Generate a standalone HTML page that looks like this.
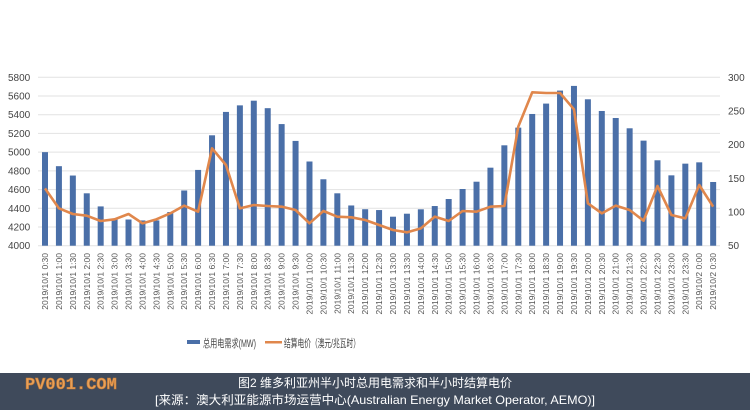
<!DOCTYPE html>
<html><head><meta charset="utf-8"><style>
html,body{margin:0;padding:0;background:#fff;}
svg{display:block;font-family:"Liberation Sans","Noto Sans CJK SC",sans-serif;}
</style></head><body>
<svg id="s" width="750" height="410" viewBox="0 0 750 410" xmlns="http://www.w3.org/2000/svg">
<rect width="750" height="410" fill="#fff"/>
<g id="grid"></g><g id="bars"></g><g id="lbl"></g>
<polyline id="line" fill="none" stroke="#e0874c" stroke-width="2.6" stroke-linejoin="round"/>
<rect x="187" y="340" width="13" height="4" fill="#4a6fa8"/>
<text x="203" y="347" font-size="11" fill="#444" textLength="53" lengthAdjust="spacingAndGlyphs">总用电需求(MW)</text>
<rect x="265" y="341" width="17" height="2.5" fill="#e0874c"/>
<text x="284" y="347" font-size="11" fill="#444" textLength="76" lengthAdjust="spacingAndGlyphs">结算电价（澳元/兆瓦时）</text>
<rect x="0" y="373" width="750" height="37" fill="#3f4a5b"/>
<text x="25" y="389" font-size="17" font-weight="bold" fill="#e7a15a" stroke="#c77a35" stroke-width="0.6" font-family="Liberation Mono, monospace">PV001.COM</text>
<text x="375" y="387" font-size="12" fill="#fff" text-anchor="middle">图2 维多利亚州半小时总用电需求和半小时结算电价</text>
<text x="375" y="404" font-size="12" fill="#fff" text-anchor="middle" textLength="440" lengthAdjust="spacingAndGlyphs">[来源：澳大利亚能源市场运营中心(Australian Energy Market Operator, AEMO)]</text>
</svg>
<script>
var NS="http://www.w3.org/2000/svg";
function el(p,t,a,txt){var e=document.createElementNS(NS,t);for(var k in a)e.setAttribute(k,a[k]);if(txt)e.textContent=txt;document.getElementById(p).appendChild(e);return e;}
var y0=245.7,y1=77.3,sc=(y0-y1)/1800;
for(var v=4000;v<=5800;v+=200){var y=y0-(v-4000)*sc;
 el("grid","line",{x1:38,x2:720,y1:y,y2:y,stroke:"#e2e2e2","stroke-width":1});
 el("grid","text",{x:8,y:y+3.5,"font-size":10,fill:"#444"},String(v));}
for(var r=50;r<=300;r+=50){var y=y0-(r-50)*(y0-y1)/250;
 el("grid","text",{x:728,y:y+3.5,"font-size":10,fill:"#444"},String(r));}
var d=[5000,4850,4750,4560,4420,4290,4280,4270,4270,4360,4590,4810,5180,5430,5500,5550,5470,5300,5120,4900,4710,4560,4430,4390,4381,4310,4342,4389,4424,4499,4606,4684,4834,5073,5262,5408,5519,5658,5708,5565,5440,5365,5255,5123,4913,4752,4877,4891,4681];
var py=[385,445,462,467,483,478,462,490,478,460,437,455,265,315,445,435,438,440,450,490,453,470,472,480,495,510,517,505,470,483,453,455,440,438,200,97,99,99,148,430,460,437,450,482,378,465,475,375,440];
var pts=[];
var times=[];
for(var i=0;i<49;i++){var h=Math.floor((i+1)/2),m=(i+1)%2?"30":"00";
 times.push(h<24?"2019/10/1 "+h+":"+m:"2019/10/2 "+(h-24)+":"+m);}
for(var i=0;i<49;i++){var x=45+i*13.92;var y=y0-(d[i]-4000)*sc;
 el("bars","rect",{x:x-3,y:y,width:6,height:y0-y,fill:"#4a6fa8"});
 el("lbl","text",{x:0,y:0,"font-size":8.5,fill:"#555","text-anchor":"end",transform:"translate("+(x+3)+",253) rotate(-90)"},times[i]);
 pts.push(x+","+(60+py[i]/3));}
document.getElementById("line").setAttribute("points",pts.join(" "));
</script>
</body></html>
